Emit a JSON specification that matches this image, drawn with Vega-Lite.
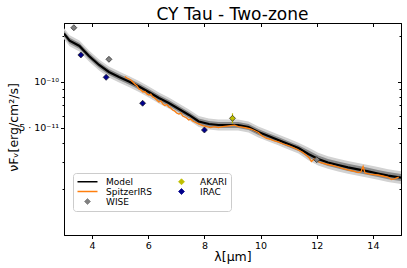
{
 "$schema": "https://vega.github.io/schema/vega-lite/v6.json",
 "width": 337, "height": 212,
 "autosize": {"type": "none"},
 "padding": {"left": 64, "top": 23, "right": 6, "bottom": 33},
 "title": {"text": "CY Tau - Two-zone", "fontSize": 17, "font": "DejaVu Sans", "fontWeight": "normal", "anchor": "middle", "frame": "group", "baseline": "alphabetic", "offset": -14, "color": "black"},
 "config": {
  "font": "DejaVu Sans",
  "view": {"stroke": "black", "strokeWidth": 1},
  "axis": {"domainColor": "black", "tickColor": "black", "labelColor": "black", "titleColor": "black", "grid": false, "labelFont": "DejaVu Sans", "titleFont": "DejaVu Sans", "titleFontWeight": "normal", "labelFontSize": 9.5, "titleFontSize": 12, "labelOverlap": false},
  "legend": {"orient": "none", "legendX": 9, "legendY": 150, "columns": 2, "title": null, "fillColor": "white", "strokeColor": "#cccccc", "cornerRadius": 3, "padding": 4, "labelFontSize": 9, "labelFont": "DejaVu Sans", "labelColor": "black", "symbolSize": 64, "rowPadding": 0, "columnPadding": 18, "labelOffset": 14, "symbolOffset": 6}
 },
 "datasets": {
  "model": [
   {"x": 3.0, "f": 2.06e-10, "lo2": 1.899e-10, "hi2": 2.235e-10, "lo1": 1.971e-10, "hi1": 2.153e-10, "s": "Model"},
   {"x": 3.2, "f": 1.85e-10, "lo2": 1.705e-10, "hi2": 2.007e-10, "lo1": 1.770e-10, "hi1": 1.933e-10, "s": "Model"},
   {"x": 3.55, "f": 1.710e-10, "lo2": 1.576e-10, "hi2": 1.855e-10, "lo1": 1.636e-10, "hi1": 1.787e-10, "s": "Model"},
   {"x": 3.89, "f": 1.471e-10, "lo2": 1.356e-10, "hi2": 1.596e-10, "lo1": 1.408e-10, "hi1": 1.537e-10, "s": "Model"},
   {"x": 4.25, "f": 1.285e-10, "lo2": 1.184e-10, "hi2": 1.394e-10, "lo1": 1.230e-10, "hi1": 1.343e-10, "s": "Model"},
   {"x": 4.6, "f": 1.157e-10, "lo2": 1.066e-10, "hi2": 1.255e-10, "lo1": 1.107e-10, "hi1": 1.209e-10, "s": "Model"},
   {"x": 4.96, "f": 1.073e-10, "lo2": 0.989e-10, "hi2": 1.164e-10, "lo1": 1.027e-10, "hi1": 1.121e-10, "s": "Model"},
   {"x": 5.31, "f": 1.003e-10, "lo2": 0.9245e-10, "hi2": 1.088e-10, "lo1": 0.9598e-10, "hi1": 1.048e-10, "s": "Model"},
   {"x": 5.67, "f": 0.9305e-10, "lo2": 0.8576e-10, "hi2": 1.0096e-10, "lo1": 0.8904e-10, "hi1": 0.9724e-10, "s": "Model"},
   {"x": 6.02, "f": 0.857e-10, "lo2": 0.7899e-10, "hi2": 0.9298e-10, "lo1": 0.8201e-10, "hi1": 0.8956e-10, "s": "Model"},
   {"x": 6.38, "f": 0.783e-10, "lo2": 0.7217e-10, "hi2": 0.8496e-10, "lo1": 0.7493e-10, "hi1": 0.8182e-10, "s": "Model"},
   {"x": 6.73, "f": 0.726e-10, "lo2": 0.6692e-10, "hi2": 0.7877e-10, "lo1": 0.6947e-10, "hi1": 0.7587e-10, "s": "Model"},
   {"x": 7.09, "f": 0.664e-10, "lo2": 0.6120e-10, "hi2": 0.7204e-10, "lo1": 0.6354e-10, "hi1": 0.6939e-10, "s": "Model"},
   {"x": 7.45, "f": 0.607e-10, "lo2": 0.5595e-10, "hi2": 0.6586e-10, "lo1": 0.5808e-10, "hi1": 0.6343e-10, "s": "Model"},
   {"x": 7.8, "f": 0.5501e-10, "lo2": 0.5070e-10, "hi2": 0.5969e-10, "lo1": 0.5264e-10, "hi1": 0.5749e-10, "s": "Model"},
   {"x": 8.16, "f": 0.5298e-10, "lo2": 0.4883e-10, "hi2": 0.5748e-10, "lo1": 0.5070e-10, "hi1": 0.5536e-10, "s": "Model"},
   {"x": 8.5, "f": 0.5219e-10, "lo2": 0.4810e-10, "hi2": 0.5663e-10, "lo1": 0.4994e-10, "hi1": 0.5454e-10, "s": "Model"},
   {"x": 8.85, "f": 0.5219e-10, "lo2": 0.4810e-10, "hi2": 0.5663e-10, "lo1": 0.4994e-10, "hi1": 0.5454e-10, "s": "Model"},
   {"x": 9.2, "f": 0.5219e-10, "lo2": 0.4810e-10, "hi2": 0.5663e-10, "lo1": 0.4994e-10, "hi1": 0.5454e-10, "s": "Model"},
   {"x": 9.57, "f": 0.506e-10, "lo2": 0.4664e-10, "hi2": 0.5490e-10, "lo1": 0.4842e-10, "hi1": 0.5288e-10, "s": "Model"},
   {"x": 9.92, "f": 0.470e-10, "lo2": 0.4332e-10, "hi2": 0.5100e-10, "lo1": 0.4497e-10, "hi1": 0.4912e-10, "s": "Model"},
   {"x": 10.28, "f": 0.442e-10, "lo2": 0.4074e-10, "hi2": 0.4796e-10, "lo1": 0.4229e-10, "hi1": 0.4619e-10, "s": "Model"},
   {"x": 10.63, "f": 0.417e-10, "lo2": 0.3843e-10, "hi2": 0.4524e-10, "lo1": 0.3990e-10, "hi1": 0.4358e-10, "s": "Model"},
   {"x": 10.99, "f": 0.392e-10, "lo2": 0.3613e-10, "hi2": 0.4253e-10, "lo1": 0.3751e-10, "hi1": 0.4096e-10, "s": "Model"},
   {"x": 11.35, "f": 0.369e-10, "lo2": 0.3401e-10, "hi2": 0.4004e-10, "lo1": 0.3531e-10, "hi1": 0.3856e-10, "s": "Model"},
   {"x": 11.7, "f": 0.338e-10, "lo2": 0.3073e-10, "hi2": 0.3718e-10, "lo1": 0.3204e-10, "hi1": 0.3566e-10, "s": "Model"},
   {"x": 12.05, "f": 0.313e-10, "lo2": 0.2845e-10, "hi2": 0.3443e-10, "lo1": 0.2967e-10, "hi1": 0.3302e-10, "s": "Model"},
   {"x": 12.4, "f": 0.297e-10, "lo2": 0.2700e-10, "hi2": 0.3267e-10, "lo1": 0.2815e-10, "hi1": 0.3133e-10, "s": "Model"},
   {"x": 12.76, "f": 0.286e-10, "lo2": 0.2600e-10, "hi2": 0.3146e-10, "lo1": 0.2711e-10, "hi1": 0.3017e-10, "s": "Model"},
   {"x": 13.11, "f": 0.276e-10, "lo2": 0.2509e-10, "hi2": 0.3036e-10, "lo1": 0.2616e-10, "hi1": 0.2912e-10, "s": "Model"},
   {"x": 13.47, "f": 0.268e-10, "lo2": 0.2436e-10, "hi2": 0.2948e-10, "lo1": 0.2540e-10, "hi1": 0.2827e-10, "s": "Model"},
   {"x": 13.83, "f": 0.260e-10, "lo2": 0.2364e-10, "hi2": 0.2860e-10, "lo1": 0.2465e-10, "hi1": 0.2743e-10, "s": "Model"},
   {"x": 14.18, "f": 0.252e-10, "lo2": 0.2291e-10, "hi2": 0.2772e-10, "lo1": 0.2389e-10, "hi1": 0.2659e-10, "s": "Model"},
   {"x": 14.54, "f": 0.244e-10, "lo2": 0.2218e-10, "hi2": 0.2684e-10, "lo1": 0.2313e-10, "hi1": 0.2574e-10, "s": "Model"},
   {"x": 15.0, "f": 0.237e-10, "lo2": 0.2155e-10, "hi2": 0.2607e-10, "lo1": 0.2247e-10, "hi1": 0.2500e-10, "s": "Model"}
  ],
  "irs": [
   {"x": 5.17, "f": 1.081e-10, "s": "SpitzerIRS"},
   {"x": 5.24, "f": 1.057e-10, "s": "SpitzerIRS"},
   {"x": 5.31, "f": 1.041e-10, "s": "SpitzerIRS"},
   {"x": 5.38, "f": 1.026e-10, "s": "SpitzerIRS"},
   {"x": 5.45, "f": 0.9954e-10, "s": "SpitzerIRS"},
   {"x": 5.52, "f": 0.9660e-10, "s": "SpitzerIRS"},
   {"x": 5.60, "f": 0.9374e-10, "s": "SpitzerIRS"},
   {"x": 5.67, "f": 0.8962e-10, "s": "SpitzerIRS"},
   {"x": 5.74, "f": 0.8829e-10, "s": "SpitzerIRS"},
   {"x": 5.81, "f": 0.8565e-10, "s": "SpitzerIRS"},
   {"x": 5.88, "f": 0.8630e-10, "s": "SpitzerIRS"},
   {"x": 5.95, "f": 0.8312e-10, "s": "SpitzerIRS"},
   {"x": 6.02, "f": 0.8188e-10, "s": "SpitzerIRS"},
   {"x": 6.09, "f": 0.8312e-10, "s": "SpitzerIRS"},
   {"x": 6.16, "f": 0.7946e-10, "s": "SpitzerIRS"},
   {"x": 6.23, "f": 0.7828e-10, "s": "SpitzerIRS"},
   {"x": 6.30, "f": 0.7596e-10, "s": "SpitzerIRS"},
   {"x": 6.38, "f": 0.7372e-10, "s": "SpitzerIRS"},
   {"x": 6.45, "f": 0.7484e-10, "s": "SpitzerIRS"},
   {"x": 6.52, "f": 0.7154e-10, "s": "SpitzerIRS"},
   {"x": 6.59, "f": 0.6995e-10, "s": "SpitzerIRS"},
   {"x": 6.66, "f": 0.7101e-10, "s": "SpitzerIRS"},
   {"x": 6.73, "f": 0.6839e-10, "s": "SpitzerIRS"},
   {"x": 6.80, "f": 0.6737e-10, "s": "SpitzerIRS"},
   {"x": 6.87, "f": 0.6537e-10, "s": "SpitzerIRS"},
   {"x": 6.94, "f": 0.6440e-10, "s": "SpitzerIRS"},
   {"x": 7.01, "f": 0.6248e-10, "s": "SpitzerIRS"},
   {"x": 7.09, "f": 0.6155e-10, "s": "SpitzerIRS"},
   {"x": 7.16, "f": 0.6248e-10, "s": "SpitzerIRS"},
   {"x": 7.23, "f": 0.5974e-10, "s": "SpitzerIRS"},
   {"x": 7.30, "f": 0.5885e-10, "s": "SpitzerIRS"},
   {"x": 7.37, "f": 0.5797e-10, "s": "SpitzerIRS"},
   {"x": 7.44, "f": 0.5626e-10, "s": "SpitzerIRS"},
   {"x": 7.51, "f": 0.5711e-10, "s": "SpitzerIRS"},
   {"x": 7.58, "f": 0.5542e-10, "s": "SpitzerIRS"},
   {"x": 7.65, "f": 0.5459e-10, "s": "SpitzerIRS"},
   {"x": 7.72, "f": 0.5378e-10, "s": "SpitzerIRS"},
   {"x": 7.79, "f": 0.5300e-10, "s": "SpitzerIRS"},
   {"x": 7.94, "f": 0.5166e-10, "s": "SpitzerIRS"},
   {"x": 8.08, "f": 0.5089e-10, "s": "SpitzerIRS"},
   {"x": 8.22, "f": 0.5012e-10, "s": "SpitzerIRS"},
   {"x": 8.36, "f": 0.5089e-10, "s": "SpitzerIRS"},
   {"x": 8.50, "f": 0.5012e-10, "s": "SpitzerIRS"},
   {"x": 8.65, "f": 0.5089e-10, "s": "SpitzerIRS"},
   {"x": 8.79, "f": 0.5127e-10, "s": "SpitzerIRS"},
   {"x": 8.93, "f": 0.5166e-10, "s": "SpitzerIRS"},
   {"x": 9.07, "f": 0.5204e-10, "s": "SpitzerIRS"},
   {"x": 9.21, "f": 0.5089e-10, "s": "SpitzerIRS"},
   {"x": 9.35, "f": 0.5050e-10, "s": "SpitzerIRS"},
   {"x": 9.50, "f": 0.4989e-10, "s": "SpitzerIRS"},
   {"x": 9.64, "f": 0.4915e-10, "s": "SpitzerIRS"},
   {"x": 9.78, "f": 0.4805e-10, "s": "SpitzerIRS"},
   {"x": 9.92, "f": 0.4663e-10, "s": "SpitzerIRS"},
   {"x": 10.06, "f": 0.4423e-10, "s": "SpitzerIRS"},
   {"x": 10.21, "f": 0.4261e-10, "s": "SpitzerIRS"},
   {"x": 10.35, "f": 0.4198e-10, "s": "SpitzerIRS"},
   {"x": 10.49, "f": 0.4104e-10, "s": "SpitzerIRS"},
   {"x": 10.63, "f": 0.4043e-10, "s": "SpitzerIRS"},
   {"x": 10.81, "f": 0.3923e-10, "s": "SpitzerIRS"},
   {"x": 10.99, "f": 0.3835e-10, "s": "SpitzerIRS"},
   {"x": 11.16, "f": 0.3722e-10, "s": "SpitzerIRS"},
   {"x": 11.34, "f": 0.3585e-10, "s": "SpitzerIRS"},
   {"x": 11.48, "f": 0.3479e-10, "s": "SpitzerIRS"},
   {"x": 11.62, "f": 0.3326e-10, "s": "SpitzerIRS"},
   {"x": 11.73, "f": 0.3179e-10, "s": "SpitzerIRS"},
   {"x": 11.81, "f": 0.3016e-10, "s": "SpitzerIRS"},
   {"x": 11.87, "f": 0.3084e-10, "s": "SpitzerIRS"},
   {"x": 11.94, "f": 0.3155e-10, "s": "SpitzerIRS"},
   {"x": 12.01, "f": 0.3039e-10, "s": "SpitzerIRS"},
   {"x": 12.12, "f": 0.2971e-10, "s": "SpitzerIRS"},
   {"x": 12.26, "f": 0.2927e-10, "s": "SpitzerIRS"},
   {"x": 12.40, "f": 0.2883e-10, "s": "SpitzerIRS"},
   {"x": 12.58, "f": 0.2840e-10, "s": "SpitzerIRS"},
   {"x": 12.76, "f": 0.2777e-10, "s": "SpitzerIRS"},
   {"x": 12.94, "f": 0.2715e-10, "s": "SpitzerIRS"},
   {"x": 13.11, "f": 0.2655e-10, "s": "SpitzerIRS"},
   {"x": 13.29, "f": 0.2615e-10, "s": "SpitzerIRS"},
   {"x": 13.47, "f": 0.2556e-10, "s": "SpitzerIRS"},
   {"x": 13.57, "f": 0.2576e-10, "s": "SpitzerIRS"},
   {"x": 13.65, "f": 0.2798e-10, "s": "SpitzerIRS"},
   {"x": 13.72, "f": 0.2537e-10, "s": "SpitzerIRS"},
   {"x": 13.89, "f": 0.2499e-10, "s": "SpitzerIRS"},
   {"x": 14.04, "f": 0.2480e-10, "s": "SpitzerIRS"},
   {"x": 14.18, "f": 0.2462e-10, "s": "SpitzerIRS"},
   {"x": 14.35, "f": 0.2426e-10, "s": "SpitzerIRS"},
   {"x": 14.53, "f": 0.2389e-10, "s": "SpitzerIRS"},
   {"x": 14.67, "f": 0.2301e-10, "s": "SpitzerIRS"},
   {"x": 14.78, "f": 0.2336e-10, "s": "SpitzerIRS"},
   {"x": 14.92, "f": 0.2389e-10, "s": "SpitzerIRS"}
  ],
  "phot": [
   {"x": 3.35, "f": 2.25e-10, "lo": 2.184e-10, "hi": 2.318e-10, "s": "WISE"},
   {"x": 4.6, "f": 1.40e-10, "lo": 1.359e-10, "hi": 1.442e-10, "s": "WISE"},
   {"x": 12.0, "f": 0.310e-10, "lo": 0.301e-10, "hi": 0.319e-10, "s": "WISE"},
   {"x": 9.0, "f": 0.5771e-10, "lo": 0.535e-10, "hi": 0.622e-10, "s": "AKARI"},
   {"x": 3.6, "f": 1.494e-10, "lo": 1.450e-10, "hi": 1.539e-10, "s": "IRAC"},
   {"x": 4.5, "f": 1.068e-10, "lo": 1.037e-10, "hi": 1.100e-10, "s": "IRAC"},
   {"x": 5.8, "f": 0.7234e-10, "lo": 0.702e-10, "hi": 0.745e-10, "s": "IRAC"},
   {"x": 8.0, "f": 0.4841e-10, "lo": 0.470e-10, "hi": 0.4986e-10, "s": "IRAC"}
  ]
 },
 "resolve": {"axis": {"x": "independent", "y": "independent"}},
 "layer": [
  {
   "data": {"name": "model"},
   "mark": {"type": "area", "color": "#d2d2d2", "clip": true},
   "encoding": {
    "x": {"field": "x", "type": "quantitative", "scale": {"domain": [3, 15], "nice": false, "zero": false},
          "axis": {"orient": "bottom", "values": [4, 6, 8, 10, 12, 14], "tickSize": 3.5, "labelPadding": 2, "title": "λ[μm]", "titleX": 168.5, "titleY": 21, "titleBaseline": "middle", "titleAlign": "center", "titleFontSize": 12.5}},
    "y": {"field": "lo2", "type": "quantitative", "scale": {"type": "log", "domain": [1e-11, 2.415e-10], "nice": false},
          "axis": {"orient": "left", "values": [2e-11, 3e-11, 4e-11, 5e-11, 6e-11, 7e-11, 8e-11, 9e-11, 1e-10, 2e-10],
                   "labelExpr": "datum.value == 1e-10 ? '10⁻¹⁰' : (datum.value == 5e-11 ? '5 · 10⁻¹¹' : '')",
                   "tickSize": {"condition": {"test": "datum.value == 1e-10 || datum.value == 5e-11", "value": 3.5}, "value": 2},
                   "labelPadding": 2, "title": "νFᵥ[erg/cm²/s]", "titleX": -51, "titleY": 104, "titleAngle": -90, "titleAlign": "center", "titleBaseline": "middle", "titleFontSize": 12.5}},
    "y2": {"field": "hi2"}
   }
  },
  {
   "data": {"name": "model"},
   "mark": {"type": "area", "color": "#8a8a8a", "clip": true},
   "encoding": {
    "x": {"field": "x", "type": "quantitative", "axis": null},
    "y": {"field": "lo1", "type": "quantitative", "axis": null},
    "y2": {"field": "hi1"}
   }
  },
  {
   "data": {"name": "model"},
   "mark": {"type": "line", "strokeWidth": 2.2, "clip": true},
   "encoding": {
    "x": {"field": "x", "type": "quantitative",
          "axis": {"orient": "top", "values": [4, 6, 8, 10, 12, 14], "tickSize": -3.5, "labels": false, "title": null}},
    "y": {"field": "f", "type": "quantitative",
          "axis": {"orient": "right", "values": [2e-11, 3e-11, 4e-11, 5e-11, 6e-11, 7e-11, 8e-11, 9e-11, 1e-10, 2e-10], "labels": false, "title": null,
                   "tickSize": {"condition": {"test": "datum.value == 1e-10 || datum.value == 5e-11", "value": -3.5}, "value": -2}}},
    "color": {"field": "s", "type": "nominal",
              "scale": {"domain": ["Model", "SpitzerIRS", "WISE", "AKARI", "IRAC"], "range": ["#000000", "#ff7f0e", "#808080", "#bfbf00", "#00008b"]},
              "legend": {"encode": {"symbols": {"update": {
                "stroke": {"signal": "datum.value == 'Model' || datum.value == 'SpitzerIRS' ? scale('color', datum.value) : '#222222'"},
                "fill": {"signal": "datum.value == 'Model' || datum.value == 'SpitzerIRS' ? 'transparent' : scale('color', datum.value)"},
                "strokeWidth": {"signal": "datum.value == 'Model' || datum.value == 'SpitzerIRS' ? 1.5 : 0.7"},
                "opacity": {"value": 1}}}}}}
   }
  },
  {
   "data": {"name": "irs"},
   "mark": {"type": "line", "strokeWidth": 1.3, "clip": true},
   "encoding": {
    "x": {"field": "x", "type": "quantitative", "axis": null},
    "y": {"field": "f", "type": "quantitative", "axis": null},
    "color": {"field": "s", "type": "nominal"}
   }
  },
  {
   "data": {"name": "phot"},
   "mark": {"type": "rule", "strokeWidth": 1.2},
   "encoding": {
    "x": {"field": "x", "type": "quantitative", "axis": null},
    "y": {"field": "lo", "type": "quantitative", "axis": null},
    "y2": {"field": "hi"},
    "color": {"field": "s", "type": "nominal", "legend": null}
   }
  },
  {
   "data": {"name": "phot"},
   "mark": {"type": "point", "filled": true, "size": 64, "stroke": "#222222", "strokeWidth": 0.7, "opacity": 1},
   "encoding": {
    "x": {"field": "x", "type": "quantitative", "axis": null},
    "y": {"field": "f", "type": "quantitative", "axis": null},
    "color": {"field": "s", "type": "nominal"},
    "shape": {"field": "s", "type": "nominal",
              "scale": {"domain": ["Model", "SpitzerIRS", "WISE", "AKARI", "IRAC"], "range": ["M-2.5,0L2.5,0", "M-2.5,0L2.5,0", "M-0.75,0L0,-0.75L0.75,0L0,0.75Z", "M-0.75,0L0,-0.75L0.75,0L0,0.75Z", "M-0.75,0L0,-0.75L0.75,0L0,0.75Z"]},
              "legend": {"encode": {"symbols": {"update": {
                "stroke": {"signal": "datum.value == 'Model' || datum.value == 'SpitzerIRS' ? scale('color', datum.value) : '#222222'"},
                "fill": {"signal": "datum.value == 'Model' || datum.value == 'SpitzerIRS' ? 'transparent' : scale('color', datum.value)"},
                "strokeWidth": {"signal": "datum.value == 'Model' || datum.value == 'SpitzerIRS' ? 1.5 : 0.7"},
                "opacity": {"value": 1}}}}}}
   }
  }
 ]
}
